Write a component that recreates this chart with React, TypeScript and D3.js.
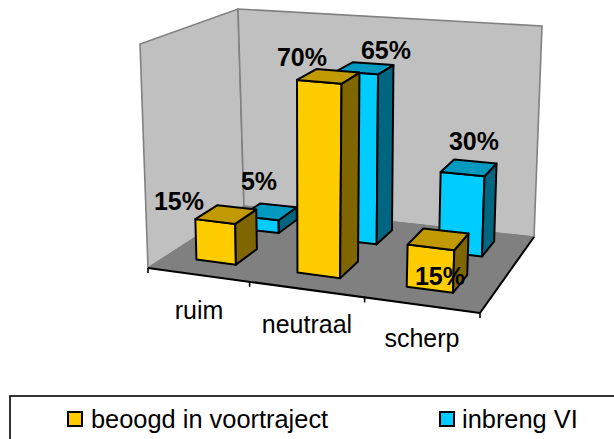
import React from "react";
import * as d3 from "d3";

const categories = ["ruim", "neutraal", "scherp"];
const seriesNames = ["beoogd in voortraject", "inbreng VI"];
const beoogd = [15, 70, 15];
const inbreng = [5, 65, 30];
const axisMax = 82;

const W = 614, H = 439;
type P = [number, number];
// floor corners on the page
const FL: P = [148, 268], FR: P = [480, 313], BR: P = [534, 237], BL: P = [244, 206];
// top of the walls above the corners
const TFL: P = [140, 44], TBL: P = [238, 9], TBR: P = [542, 26], TFR: P = [489, 74];

function homography(a: P, b: P, c: P, d: P) {
  // unit square (0,0),(1,0),(1,1),(0,1) to a,b,c,d
  const dx1 = b[0] - c[0], dx2 = d[0] - c[0], sx = a[0] - b[0] + c[0] - d[0];
  const dy1 = b[1] - c[1], dy2 = d[1] - c[1], sy = a[1] - b[1] + c[1] - d[1];
  const den = dx1 * dy2 - dx2 * dy1;
  const g = (sx * dy2 - dx2 * sy) / den;
  const h = (dx1 * sy - sx * dy1) / den;
  const A = b[0] - a[0] + g * b[0], B = d[0] - a[0] + h * d[0];
  const D = b[1] - a[1] + g * b[1], E = d[1] - a[1] + h * d[1];
  return (u: number, v: number): P => {
    const w = g * u + h * v + 1;
    return [(A * u + B * v + a[0]) / w, (D * u + E * v + a[1]) / w];
  };
}
const floorAt = homography(FL, FR, BR, BL);
const rise = (u: number, v: number, i: 0 | 1) => {
  const f = d3.interpolateNumber(TFL[i] - FL[i], TFR[i] - FR[i])(u);
  const b = d3.interpolateNumber(TBL[i] - BL[i], TBR[i] - BR[i])(u);
  return f + (b - f) * v;
};

const band = d3.scaleBand<string>().domain(categories).range([0.002, 0.994]).paddingInner(0.6).paddingOuter(0.3);
const hScale = d3.scaleLinear().domain([0, axisMax]).range([0, 1]);
const depth = d3.scaleBand<number>().domain([0, 1]).range([0.175, 0.875]).paddingInner(0.53).paddingOuter(0);

function pt(u: number, v: number, val: number): P {
  const b = floorAt(u, v), k = hScale(val);
  return [b[0] + rise(u, v, 0) * k, b[1] + rise(u, v, 1) * k];
}
const line = d3.line<P>().curve(d3.curveLinearClosed);
const poly = (pts: P[]) => line(pts) as string;

const palette = [
  { front: "#ffcc00", top: "#c09a00", side: "#806600" },
  { front: "#00ccff", top: "#009ac0", side: "#006680" },
];
// label centre on the page
const labelPos: P[][] = [
  [[179, 203], [302, 59], [440, 278]],
  [[259, 183], [386, 52], [474, 143]],
];
const categoryLabelPos: P[] = [[199, 319], [307, 333], [422, 347]];

function Bar({ cat, s, val }: { cat: string; s: number; val: number }) {
  const u0 = band(cat)!, u1 = u0 + band.bandwidth();
  const v0 = depth(s)!, v1 = v0 + depth.bandwidth();
  const c = palette[s];
  const a = pt(u0, v0, 0), b = pt(u1, v0, 0), e = pt(u1, v1, 0);
  const ta = pt(u0, v0, val), tb = pt(u1, v0, val), te = pt(u1, v1, val), td = pt(u0, v1, val);
  const st = { stroke: "#000", strokeWidth: 2, strokeLinejoin: "round" as const };
  return (
    <g>
      <path d={poly([ta, tb, b, a])} fill={c.front} {...st} />
      <path d={poly([tb, te, e, b])} fill={c.side} {...st} />
      <path d={poly([ta, tb, te, td])} fill={c.top} {...st} />
    </g>
  );
}

export default function App() {
  const tickX = [0, 0.333, 0.68, 1];
  const ticks = tickX.map((t, i) => [floorAt(t, 0), i] as const);
  const series = [beoogd, inbreng];
  return (
    <svg width={W} height={H} style={{ position: "fixed", left: 0, top: 0, background: "#fff" }} fontFamily="Liberation Sans, Arial, sans-serif">
      <path d={poly([FL, TFL, TBL, BL])} fill="#c0c0c0" stroke="#808080" strokeWidth={1.6} />
      <path d={poly([BL, TBL, TBR, BR])} fill="#c0c0c0" stroke="#808080" strokeWidth={1.6} />
      <path d={poly([FL, BL, BR, FR])} fill="#808080" stroke="#808080" strokeWidth={1} />
      <line x1={FL[0]} y1={FL[1]} x2={FR[0]} y2={FR[1]} stroke="#000" strokeWidth={2} />
      <line x1={FR[0]} y1={FR[1]} x2={BR[0]} y2={BR[1]} stroke="#000" strokeWidth={2} />
      {ticks.map(([p, i]) => (
        <line key={i} x1={p[0]} y1={p[1]} x2={p[0]} y2={p[1] + 5} stroke="#000" strokeWidth={1.6} />
      ))}
      {categories.map((c, i) => <Bar key={c} cat={c} s={1} val={inbreng[i]} />)}
      {categories.map((c, i) => <Bar key={c} cat={c} s={0} val={beoogd[i]} />)}
      {categories.map((c, i) => (
        <text key={c} x={categoryLabelPos[i][0]} y={categoryLabelPos[i][1]} textAnchor="middle" fontSize={25} fill="#000">{c}</text>
      ))}
      {series.map((vals, s) =>
        vals.map((val, i) => (
          <text key={`${s}-${i}`} x={labelPos[s][i][0]} y={labelPos[s][i][1]} textAnchor="middle" dominantBaseline="middle" fontSize={25} fontWeight="bold" fill="#000">{val}%</text>
        ))
      )}
      <rect x={10} y={396} width={640} height={60} fill="#fff" stroke="#000" strokeWidth={1.6} />
      {seriesNames.map((n, s) => {
        const x = [68, 440][s];
        const tx = [91, 462][s];
        return (
          <g key={n}>
            <rect x={x} y={412} width={14} height={14} fill={palette[s].front} stroke="#000" strokeWidth={2} />
            <text x={tx} y={428} fontSize={25.4} fill="#000">{n}</text>
          </g>
        );
      })}
    </svg>
  );
}
